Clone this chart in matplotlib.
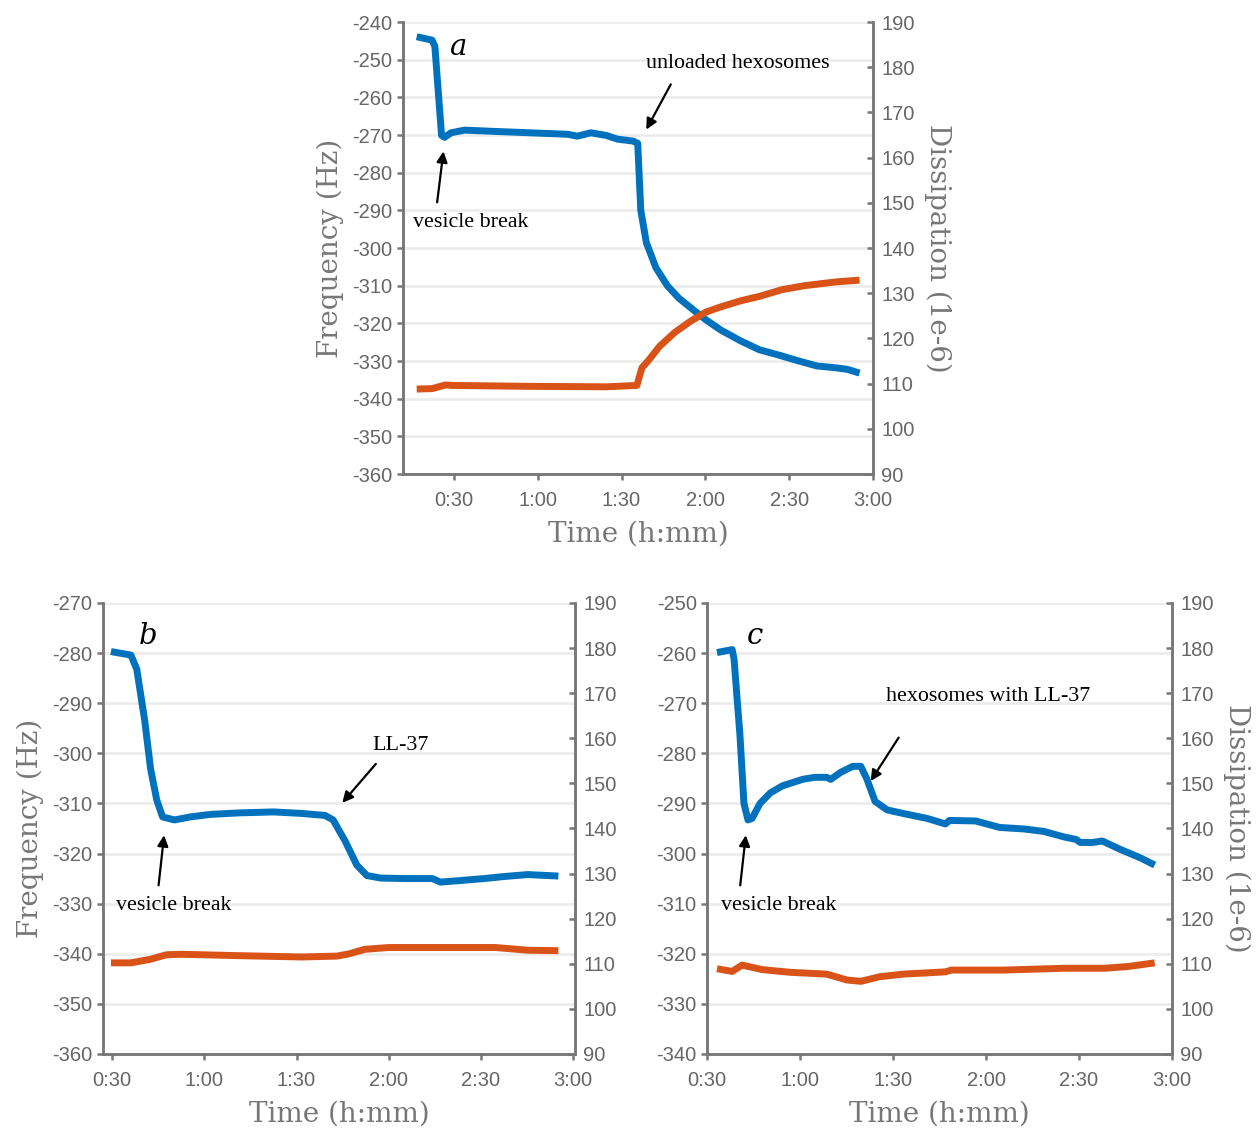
import matplotlib.pyplot as plt
from matplotlib.ticker import FuncFormatter, MultipleLocator

plt.rcParams['axes.unicode_minus'] = False

# panel a (time in minutes)
a_t_f = [16.7, 22.2, 23.2, 25.6, 26.7, 29.0, 33.8, 43.4, 57.1, 70.8, 74.2, 79.0, 84.5, 88.6, 94.1, 95.8,
         96.9, 98.9, 102.3, 106.4, 110.5, 116.0, 120.1, 125.6, 132.5, 139.3, 146.2, 153.0, 159.9, 166.7, 170.8, 175.2]
a_freq = [-243.9, -244.8, -246.4, -270.1, -270.6, -269.4, -268.7, -269.0, -269.4, -269.8, -270.3, -269.4, -270.1,
          -271.1, -271.6, -272.2, -290.0, -298.6, -305.2, -310.0, -313.3, -316.6, -319.0, -321.8, -324.6, -327.0,
          -328.4, -329.9, -331.3, -331.8, -332.2, -333.2]
a_t_d = [16.7, 22.2, 27.0, 29.7, 57.1, 84.5, 95.5, 97.3, 99.6, 103.7, 109.2, 114.7, 120.1, 125.6, 132.5, 139.3,
         147.5, 155.8, 166.7, 175.2]
a_diss = [108.8, 108.9, 109.7, 109.6, 109.4, 109.3, 109.6, 113.5, 115.1, 118.3, 121.4, 123.8, 125.8, 127.0, 128.3,
          129.3, 130.8, 131.7, 132.5, 132.9]

# panel b
b_t_f = [29.6, 36.1, 38.0, 40.6, 42.5, 44.5, 46.4, 50.3, 55.4, 61.9, 70.9, 82.5, 91.6, 99.3, 101.9, 105.8, 109.6,
         112.9, 117.4, 125.1, 134.2, 136.8, 143.2, 151.0, 157.4, 165.2, 175.2]
b_freq = [-279.7, -280.4, -283.2, -293.5, -303.1, -309.3, -312.7, -313.3, -312.7, -312.2, -311.9, -311.7, -312.0,
          -312.4, -313.3, -317.5, -322.3, -324.4, -324.9, -325.0, -325.0, -325.7, -325.4, -325.0, -324.6, -324.2,
          -324.5]
b_t_d = [29.6, 36.1, 42.5, 47.7, 52.8, 70.9, 91.6, 103.2, 107.1, 112.2, 120.0, 135.5, 154.8, 165.2, 175.2]
b_diss = [110.2, 110.2, 111.0, 112.0, 112.1, 111.8, 111.5, 111.7, 112.2, 113.2, 113.6, 113.6, 113.6, 113.0, 112.9]

# panel c
c_t_f = [33.2, 38.1, 38.7, 40.6, 41.9, 43.2, 44.5, 47.1, 50.4, 54.3, 60.8, 64.7, 68.6, 69.9, 73.1, 77.0, 79.6,
         81.6, 84.2, 88.1, 93.2, 101.0, 106.9, 108.2, 116.6, 124.4, 132.2, 138.7, 145.2, 149.1, 150.4, 154.3,
         157.5, 163.4, 169.9, 174.4]
c_freq = [-259.9, -259.3, -261.2, -276.3, -290.0, -293.3, -293.0, -290.0, -287.9, -286.5, -285.2, -284.8, -284.8,
          -285.2, -283.8, -282.6, -282.6, -285.2, -289.6, -291.3, -292.0, -293.0, -294.1, -293.4, -293.5, -294.8,
          -295.1, -295.6, -296.7, -297.2, -297.8, -297.8, -297.5, -299.2, -300.9, -302.3]
c_t_d = [33.2, 38.1, 41.3, 47.8, 56.9, 68.6, 75.1, 79.6, 85.5, 93.2, 106.9, 108.8, 125.7, 145.2, 158.2, 166.0, 174.4]
c_diss = [108.9, 108.3, 109.7, 108.7, 108.1, 107.7, 106.4, 106.1, 107.1, 107.7, 108.2, 108.6, 108.6, 109.0, 109.0,
          109.4, 110.2]

BLUE = '#0072BD'
ORANGE = '#D95319'
GREY = '#777777'

fig = plt.figure(figsize=(12.57, 11.3), dpi=100)

def hmm(v, pos):
    v = int(round(v))
    return f"{v // 60}:{v % 60:02d}"

def panel(rect, t_f, freq, t_d, diss, xlim, ylim, letter, letter_xy, notes, left_label, right_label):
    ax = fig.add_axes(rect)
    ax2 = ax.twinx()
    ax.plot(t_f, freq, color=BLUE, lw=5, solid_capstyle='butt')
    ax2.plot(t_d, diss, color=ORANGE, lw=5, solid_capstyle='butt')
    ax.set_xlim(xlim)
    ax.set_ylim(ylim)
    ax2.set_ylim(90, 190)
    ax.xaxis.set_major_locator(MultipleLocator(30))
    ax.xaxis.set_major_formatter(FuncFormatter(hmm))
    ax.yaxis.set_major_locator(MultipleLocator(10))
    ax2.yaxis.set_major_locator(MultipleLocator(10))
    ax.grid(axis='y', color='#ececec', lw=2)
    ax.set_axisbelow(True)
    for a in (ax, ax2):
        for s in a.spines.values():
            s.set_color(GREY)
            s.set_linewidth(1.8)
        a.spines['top'].set_visible(False)
    ax.tick_params(axis='both', direction='out', length=4, width=1.8, color=GREY,
                   labelcolor='#666666', labelsize=14.5)
    ax.tick_params(axis='x', pad=8)
    ax2.tick_params(axis='y', direction='in', length=4, width=1.8, color=GREY,
                    labelcolor='#666666', labelsize=14.5, pad=6)
    for lab in ax.get_xticklabels() + ax.get_yticklabels() + ax2.get_yticklabels():
        lab.set_family('Liberation Sans')
    ax.set_xlabel('Time (h:mm)', family='DejaVu Serif', fontsize=20, color=GREY, labelpad=8)
    if left_label:
        ax.set_ylabel('Frequency (Hz)', family='DejaVu Serif', fontsize=20, color=GREY, labelpad=6)
    if right_label:
        ax2.set_ylabel('Dissipation (1e-6)', family='DejaVu Serif', fontsize=20, color=GREY,
                       rotation=270, labelpad=26)
    ax.text(letter_xy[0], letter_xy[1], letter, family='DejaVu Serif', style='italic',
            fontsize=21, ha='center', va='center')
    for txt, txy, tail, head in notes:
        ax.text(txy[0], txy[1], txt, family='Liberation Serif', fontsize=15.8, ha='center', va='center')
        ax.annotate('', xy=head, xytext=tail,
                    arrowprops=dict(arrowstyle='-|>', color='black', lw=1.6, mutation_scale=16))
    return ax, ax2

panel([0.3206, 0.5805, 0.3739, 0.4], a_t_f, a_freq, a_t_d, a_diss, (11.8, 180), (-360, -240),
      'a', (31.4, -246.6),
      [('vesicle break', (36.1, -293.1), (23.9, -288.6), (26.4, -273.6)),
       ('unloaded hexosomes', (131.7, -251.1), (108.1, -255.9), (98.4, -269.2))],
      True, True)

panel([0.0819, 0.0673, 0.3755, 0.3991], b_t_f, b_freq, b_t_d, b_diss, (27.0, 180.6), (-360, -270),
      'b', (41.7, -276.6),
      [('vesicle break', (49.9, -330.3), (45.0, -326.9), (47.0, -315.8)),
       ('LL-37', (123.9, -298.5), (116.4, -301.7), (104.3, -310.3))],
      True, False)

panel([0.5625, 0.0673, 0.3699, 0.3991], c_t_f, c_freq, c_t_d, c_diss, (30, 180), (-340, -250),
      'c', (45.5, -256.6),
      [('vesicle break', (53.2, -310.3), (40.6, -306.9), (42.6, -295.8)),
       ('hexosomes with LL-37', (120.6, -268.6), (92.3, -276.4), (82.3, -286.0))],
      False, True)

fig.savefig('out.png', dpi=100)
